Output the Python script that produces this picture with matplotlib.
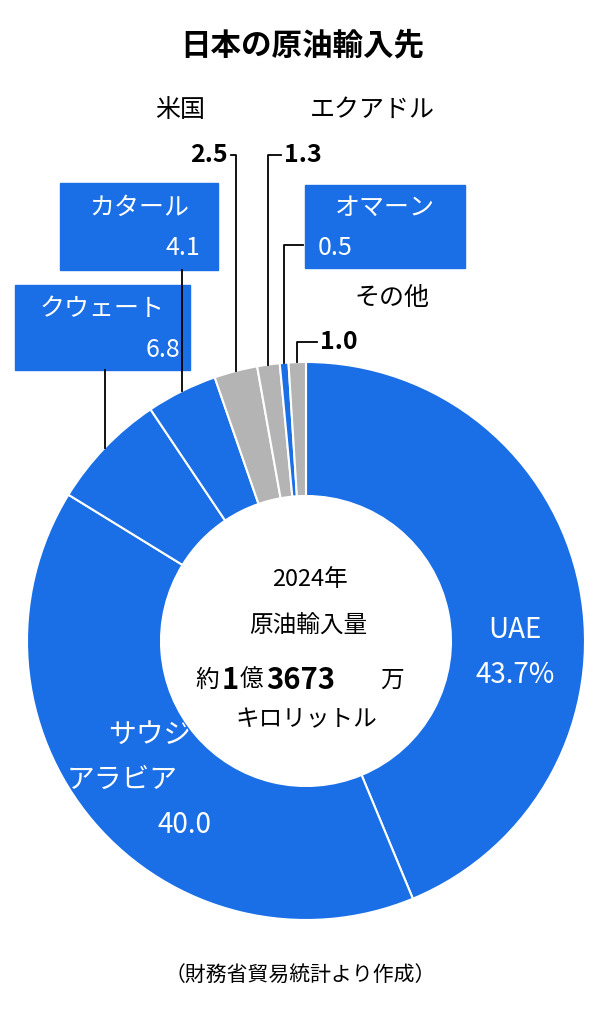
import matplotlib
matplotlib.use("Agg")
import matplotlib.pyplot as plt
import numpy as np

countries = ["UAE", "サウジアラビア", "クウェート", "カタール", "米国", "エクアドル", "オマーン", "その他"]
shares = [43.7, 40.0, 6.8, 4.1, 2.5, 1.3, 0.5, 1.0]
BLUE = "#1a6ee6"
GRAY = "#b4b4b4"
colors = [BLUE, BLUE, BLUE, BLUE, GRAY, GRAY, BLUE, GRAY]

plt.rcParams["font.family"] = "Noto Sans CJK JP"
W, H = 604, 1024
fig = plt.figure(figsize=(W/100, H/100), dpi=100)
cx, cy, R, r_in = 306, 641, 279, 145
ax = fig.add_axes([(cx-R)/W, (H-cy-R)/H, 2*R/W, 2*R/H])
ax.pie(shares, colors=colors, startangle=90, counterclock=False, radius=1,
       wedgeprops=dict(width=1-r_in/R, edgecolor="white", linewidth=1.5))
ax.set_xlim(-1, 1); ax.set_ylim(-1, 1); ax.set_aspect("equal"); ax.axis("off")

ov = fig.add_axes([0, 0, 1, 1]); ov.set_xlim(0, W); ov.set_ylim(H, 0); ov.axis("off")

# wedge mid angles
tot = sum(shares)
cum = np.cumsum([0] + shares)
mids = [90 - 360*(cum[i]+shares[i]/2)/tot for i in range(len(shares))]
def edge(i, rr=R):
    a = np.deg2rad(mids[i])
    return cx + rr*np.cos(a), cy - rr*np.sin(a)

ov.text(302, 45, "日本の原油輸入先", ha="center", va="center", fontsize=22, fontweight="bold")

def box(x0, y0, x1, y1):
    ov.add_patch(plt.Rectangle((x0, y0), x1-x0, y1-y0, color=BLUE, zorder=1))

fs = 18
box(60, 183, 218, 270)
ov.text(139, 208, "カタール", ha="center", va="center", color="white", fontsize=fs, zorder=2)
ov.text(200, 248, "4.1", ha="right", va="center", color="white", fontsize=fs, zorder=2)
box(15, 285, 190, 370)
ov.text(102, 309, "クウェート", ha="center", va="center", color="white", fontsize=fs, zorder=2)
ov.text(180, 350, "6.8", ha="right", va="center", color="white", fontsize=fs, zorder=2)
box(305, 185, 465, 268)
ov.text(385, 208, "オマーン", ha="center", va="center", color="white", fontsize=fs, zorder=2)
ov.text(318, 248, "0.5", ha="left", va="center", color="white", fontsize=fs, zorder=2)

ov.text(180, 110, "米国", ha="center", va="center", fontsize=fs)
ov.text(228, 155, "2.5", ha="right", va="center", fontsize=fs, fontweight="bold")
ov.text(372, 110, "エクアドル", ha="center", va="center", fontsize=fs)
ov.text(284, 155, "1.3", ha="left", va="center", fontsize=fs, fontweight="bold")
ov.text(392, 298, "その他", ha="center", va="center", fontsize=fs)
ov.text(320, 342, "1.0", ha="left", va="center", fontsize=fs, fontweight="bold")

lw = 1.3
ex, ey = edge(2); ov.plot([ex, ex], [370, ey], color="black", lw=lw)
ex, ey = edge(3); ov.plot([ex, ex], [270, ey], color="black", lw=lw)
ex, ey = edge(4); ov.plot([231, ex, ex], [155, 155, ey], color="black", lw=lw)
ex, ey = edge(5); ov.plot([281, ex, ex], [155, 155, ey], color="black", lw=lw)
ex, ey = edge(6); ov.plot([303, ex, ex], [245, 245, ey], color="black", lw=lw)
ex, ey = edge(7); ov.plot([317, ex, ex], [342, 342, ey], color="black", lw=lw)

ov.text(515, 630, "UAE", ha="center", va="center", color="white", fontsize=fs+2)
ov.text(515, 675, "43.7%", ha="center", va="center", color="white", fontsize=fs+2)
ov.text(150, 735, "サウジ", ha="center", va="center", color="white", fontsize=fs+2)
ov.text(122, 780, "アラビア", ha="center", va="center", color="white", fontsize=fs+2)
ov.text(185, 825, "40.0", ha="center", va="center", color="white", fontsize=fs+2)

ov.text(310, 580, "2024年", ha="center", va="center", fontsize=17)
ov.text(308, 625, "原油輸入量", ha="center", va="center", fontsize=17)
ov.text(308, 680, "約$\\mathbf{}$", ha="center", va="center", fontsize=1, alpha=0)
ov.text(195, 680, "約", ha="left", va="center", fontsize=17)
ov.text(222, 680, "1", ha="left", va="center", fontsize=21, fontweight="bold")
ov.text(240, 680, "億", ha="left", va="center", fontsize=17)
ov.text(266, 680, "3673", ha="left", va="center", fontsize=21, fontweight="bold")
ov.text(380, 680, "万", ha="left", va="center", fontsize=17)
ov.text(306, 720, "キロリットル", ha="center", va="center", fontsize=17)

ov.text(300, 975, "（財務省貿易統計より作成）", ha="center", va="center", fontsize=15)
fig.savefig("out.png", dpi=100)
